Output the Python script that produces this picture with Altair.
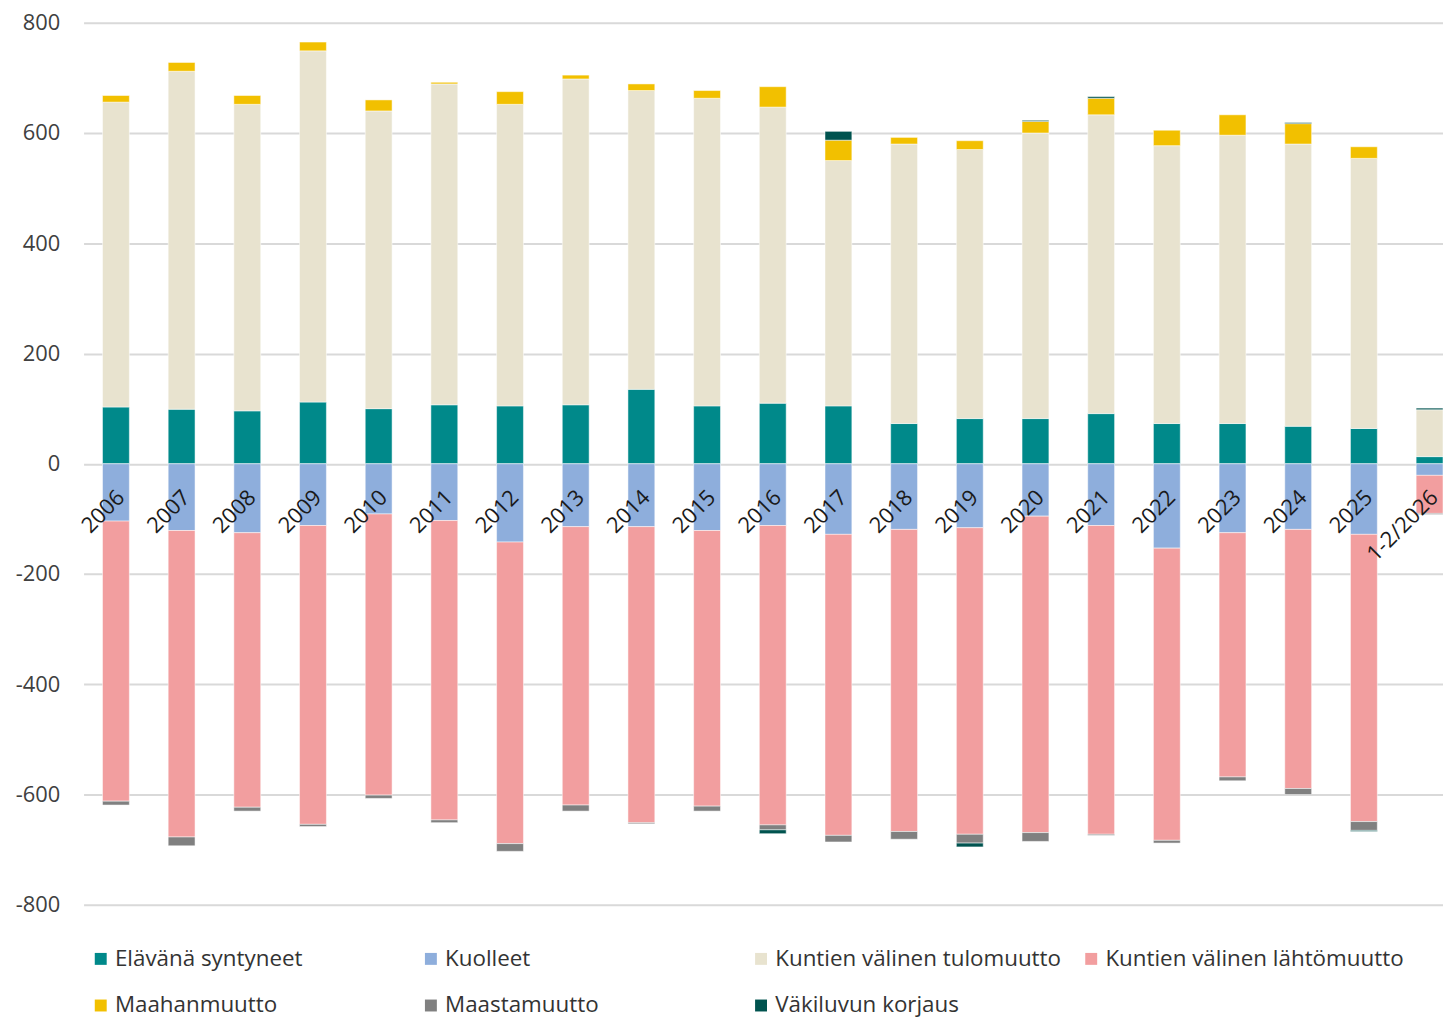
import altair as alt
import pandas as pd

categories = ["2006", "2007", "2008", "2009", "2010", "2011", "2012", "2013", "2014", "2015",
              "2016", "2017", "2018", "2019", "2020", "2021", "2022", "2023", "2024", "2025", "1-2/2026"]

series_names = ["Elävänä syntyneet", "Kuolleet", "Kuntien välinen tulomuutto",
                "Kuntien välinen lähtömuutto", "Maahanmuutto", "Maastamuutto", "Väkiluvun korjaus"]
colors = ["#00898A", "#8EAEDC", "#E8E3CF", "#F29E9F", "#F2C000", "#808080", "#00534F"]

births = [103, 99, 96, 112, 100, 107, 105, 107, 135, 105, 110, 105, 73, 82, 82, 91, 73, 73, 68, 64, 13]
deaths = [-104, -121, -125, -112, -91, -103, -142, -114, -114, -121, -112, -128, -119, -116, -95, -112, -153, -125, -119, -128, -21]
in_migration = [553, 613, 556, 637, 540, 582, 547, 591, 542, 558, 537, 445, 507, 488, 518, 542, 504, 523, 512, 490, 85]
out_migration = [-508, -556, -498, -542, -510, -543, -547, -505, -537, -500, -543, -546, -548, -556, -574, -560, -530, -443, -470, -521, -69]
immigration = [12, 16, 16, 16, 20, 3, 23, 7, 12, 14, 37, 37, 12, 16, 21, 30, 28, 37, 37, 21, 0]
emigration = [-7, -16, -7, -4, -6, -5, -14, -11, -2, -9, -9, -12, -14, -16, -16, -2, -5, -7, -11, -16, -2]
correction = [0, 0, 0, 0, 0, 0, 0, 0, 0, 0, -7, 16, 0, -7, 2, 3, 0, 0, 2, -2, 3]

y_ticks = [-800, -600, -400, -200, 0, 200, 400, 600, 800]

all_series = [births, deaths, in_migration, out_migration, immigration, emigration, correction]
rows = []
for idx, (name, vals) in enumerate(zip(series_names, all_series)):
    for c, v in zip(categories, vals):
        if v != 0:
            rows.append({"cat": c, "series": name, "value": v, "ord": idx})
df = pd.DataFrame(rows)

FONT = "Open Sans"

x_enc = alt.X("cat:N", sort=categories, axis=None,
              scale=alt.Scale(paddingInner=0.591, paddingOuter=0.144, align=1))

bars = alt.Chart(df).mark_bar(stroke="white", strokeWidth=0.5).encode(
    x=x_enc,
    y=alt.Y("value:Q", stack="zero",
            scale=alt.Scale(domain=[-800, 800], nice=False),
            axis=alt.Axis(values=y_ticks, title=None, grid=True, gridColor="#D9D9D9",
                          gridWidth=2, ticks=False, domain=False, labelFont=FONT,
                          labelFontSize=22, labelColor="#404040", labelPadding=24,
                          labelExpr="'' + datum.value")),
    color=alt.Color("series:N",
                    scale=alt.Scale(domain=series_names, range=colors),
                    legend=alt.Legend(title=None, orient="none", legendX=6, legendY=930,
                                      direction="horizontal", columns=4, symbolType="square",
                                      symbolSize=144, symbolStrokeWidth=0, labelFont=FONT,
                                      labelFontSize=22.5, labelColor="#333333", labelLimit=400,
                                      labelOffset=3, gridAlign="all", columnPadding=6,
                                      rowPadding=24, padding=0)),
    order=alt.Order("ord:Q"),
)

labels = alt.Chart(pd.DataFrame({"cat": categories})).mark_text(
    angle=315, align="right", baseline="middle", dx=-18, dy=25,
    font=FONT, fontSize=22, color="#1a1a1a"
).encode(
    x=x_enc,
    y=alt.datum(0),
    text="cat:N",
)

chart = alt.layer(bars, labels).properties(
    width=1367, height=887,
    autosize=alt.AutoSizeParams(type="none"),
    padding={"left": 76, "top": 12, "right": 0, "bottom": 112},
).configure(background="white").configure_view(stroke=None)

chart.save("out.html", embed_options={"renderer": "svg", "actions": False})
